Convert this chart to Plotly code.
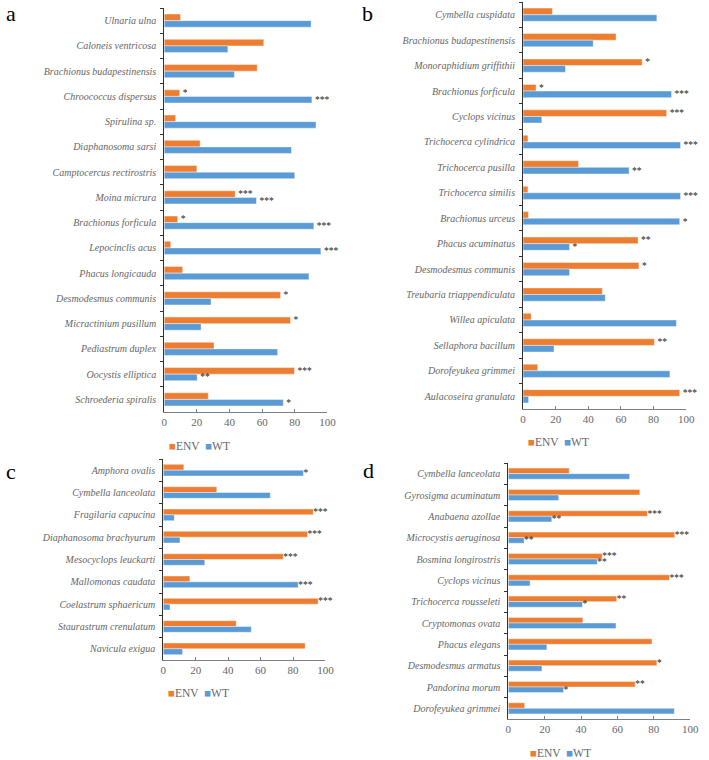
import plotly.graph_objects as go

# ---------------- data ----------------
a_cats = ["Ulnaria ulna", "Caloneis ventricosa", "Brachionus budapestinensis", "Chroococcus dispersus",
          "Spirulina sp.", "Diaphanosoma sarsi", "Camptocercus rectirostris", "Moina micrura",
          "Brachionus forficula", "Lepocinclis acus", "Phacus longicauda", "Desmodesmus communis",
          "Micractinium pusillum", "Pediastrum duplex", "Oocystis elliptica", "Schroederia spiralis"]
a_env = [10, 61, 57, 9.5, 7, 22, 20, 43.5, 8.3, 4, 11.3, 71.3, 77.4, 30.5, 79.8, 27]
a_wt = [90, 39, 43, 90.5, 93, 78, 80, 56.5, 91.7, 96, 88.7, 28.7, 22.6, 69.5, 20.2, 73]
a_env_sig = ["", "", "", "*", "", "", "", "***", "*", "", "", "*", "*", "", "***", ""]
a_wt_sig = ["", "", "", "***", "", "", "", "***", "***", "***", "", "", "", "", "**", "*"]

b_cats = ["Cymbella cuspidata", "Brachionus budapestinensis", "Monoraphidium griffithii", "Brachionus forficula",
          "Cyclops vicinus", "Trichocerca cylindrica", "Trichocerca pusilla", "Trichocerca similis",
          "Brachionus urceus", "Phacus acuminatus", "Desmodesmus communis", "Treubaria triappendiculata",
          "Willea apiculata", "Sellaphora bacillum", "Dorofeyukea grimmei", "Aulacoseira granulata"]
b_env = [18, 57, 73, 8, 88, 3, 34, 3, 3.4, 70.5, 71, 48.6, 5, 80.5, 9, 96]
b_wt = [82, 43, 26, 91, 11.5, 96.5, 65, 96.5, 96, 28.5, 28.5, 50.4, 94, 19, 90, 3.4]
b_env_sig = ["", "", "*", "*", "***", "", "", "", "", "**", "*", "", "", "**", "", "***"]
b_wt_sig = ["", "", "", "***", "", "***", "**", "***", "*", "*", "", "", "", "", "", ""]

c_cats = ["Amphora ovalis", "Cymbella lanceolata", "Fragilaria capucina", "Diaphanosoma brachyurum",
          "Mesocyclops leuckarti", "Mallomonas caudata", "Coelastrum sphaericum", "Staurastrum crenulatum",
          "Navicula exigua"]
c_env = [12.7, 33, 92.5, 89, 74, 16.4, 95.5, 45, 87.5]
c_wt = [86.4, 66, 6.8, 10.3, 25.6, 83.2, 4.2, 54.3, 11.9]
c_env_sig = ["", "", "***", "***", "***", "", "***", "", ""]
c_wt_sig = ["*", "", "", "", "", "***", "", "", ""]

d_cats = ["Cymbella lanceolata", "Gyrosigma acuminatum", "Anabaena azollae", "Microcystis aeruginosa",
          "Bosmina longirostris", "Cyclops vicinus", "Trichocerca rousseleti", "Cryptomonas ovata",
          "Phacus elegans", "Desmodesmus armatus", "Pandorina morum", "Dorofeyukea grimmei"]
d_env = [33.5, 72.3, 76.5, 91.5, 51.6, 88.6, 59.6, 41, 79, 81.7, 69.8, 9]
d_wt = [66.7, 27.7, 23.9, 8.7, 48.9, 12, 40.8, 59.2, 21.2, 18.5, 30.4, 91.3]
d_env_sig = ["", "", "***", "***", "***", "***", "**", "", "", "*", "**", ""]
d_wt_sig = ["", "", "**", "**", "**", "", "*", "", "", "", "*", ""]

x_ticks = [0, 20, 40, 60, 80, 100]
series_names = ["ENV", "WT"]
panel_letters = ["a", "b", "c", "d"]

# ---------------- style ----------------
W, H = 709, 760
ORANGE = "#ED7D31"
BLUE = "#5B9BD5"
GRAY = "#666666"
SERIF = "Liberation Serif, Times New Roman, serif"

# panel pixel boxes: (x0, x1, ytop, ybottom)
boxes = [(164, 330, 8, 412), (529, 695, 2, 409), (163, 328, 459, 660), (514, 699, 463, 719)]
legend_pos = [(167, 446), (532, 442), (166, 693), (534, 753)]
letter_pos = [(8, 14), (371, 14), (8, 471), (372, 470)]

panels = [
    (a_cats, a_env, a_wt, a_env_sig, a_wt_sig),
    (b_cats, b_env, b_wt, b_env_sig, b_wt_sig),
    (c_cats, c_env, c_wt, c_env_sig, c_wt_sig),
    (d_cats, d_env, d_wt, d_env_sig, d_wt_sig),
]

fig = go.Figure()
layout = dict(
    width=W, height=H, margin=dict(l=0, r=0, t=0, b=0),
    paper_bgcolor="white", plot_bgcolor="white",
    barmode="group", bargap=0.48, bargroupgap=0,
    showlegend=False, font=dict(family=SERIF, color=GRAY),
)
annotations = []

for i, (cats, env, wt, esig, wsig) in enumerate(panels):
    n = i + 1
    xa = "x" if n == 1 else f"x{n}"
    ya = "y" if n == 1 else f"y{n}"
    x0, x1, yt, yb = boxes[i]
    for name, vals, sig, col in [(series_names[0], env, esig, ORANGE), (series_names[1], wt, wsig, BLUE)]:
        fig.add_trace(go.Bar(
            y=cats, x=vals, orientation="h", name=name, xaxis=xa, yaxis=ya,
            marker=dict(color=col, line=dict(color="rgba(255,255,255,0.7)", width=0.6)),
            text=sig, textposition="outside", constraintext="none", cliponaxis=False,
            textfont=dict(family=SERIF, size=9.5, color="#222222"),
        ))
    layout["xaxis" if n == 1 else f"xaxis{n}"] = dict(
        domain=[x0 / W, x1 / W], anchor=ya, range=[0, 100],
        tickvals=x_ticks, ticks="inside", ticklen=3, tickcolor="#7f7f7f",
        showline=True, linecolor="#7f7f7f", linewidth=1, showgrid=False, zeroline=False,
        tickfont=dict(family=SERIF, size=11, color=GRAY),
    )
    layout["yaxis" if n == 1 else f"yaxis{n}"] = dict(
        domain=[1 - yb / H, 1 - yt / H], anchor=xa, type="category",
        autorange="reversed", ticks="outside", tickson="boundaries", ticklen=3,
        tickcolor="#333333", showline=True, linecolor="#333333", linewidth=1,
        showgrid=False, zeroline=False, ticklabelstandoff=5,
        tickfont=dict(family=SERIF, size=10, color=GRAY, style="italic"),
    )
    lx, ly = legend_pos[i]
    annotations.append(dict(
        xref="paper", yref="paper", x=lx / W, y=1 - ly / H, xanchor="left", yanchor="middle",
        showarrow=False, font=dict(family=SERIF, size=11.5, color=GRAY),
        text=f"<span style='color:{ORANGE}'>■</span>{series_names[0]}  "
             f"<span style='color:{BLUE}'>■</span>{series_names[1]}",
    ))
    px, py = letter_pos[i]
    annotations.append(dict(
        xref="paper", yref="paper", x=px / W, y=1 - py / H, xanchor="center", yanchor="middle",
        showarrow=False, font=dict(family=SERIF, size=22, color="black"), text=panel_letters[i],
    ))

layout["annotations"] = annotations
fig.update_layout(**layout)
fig.write_html("out.html")
